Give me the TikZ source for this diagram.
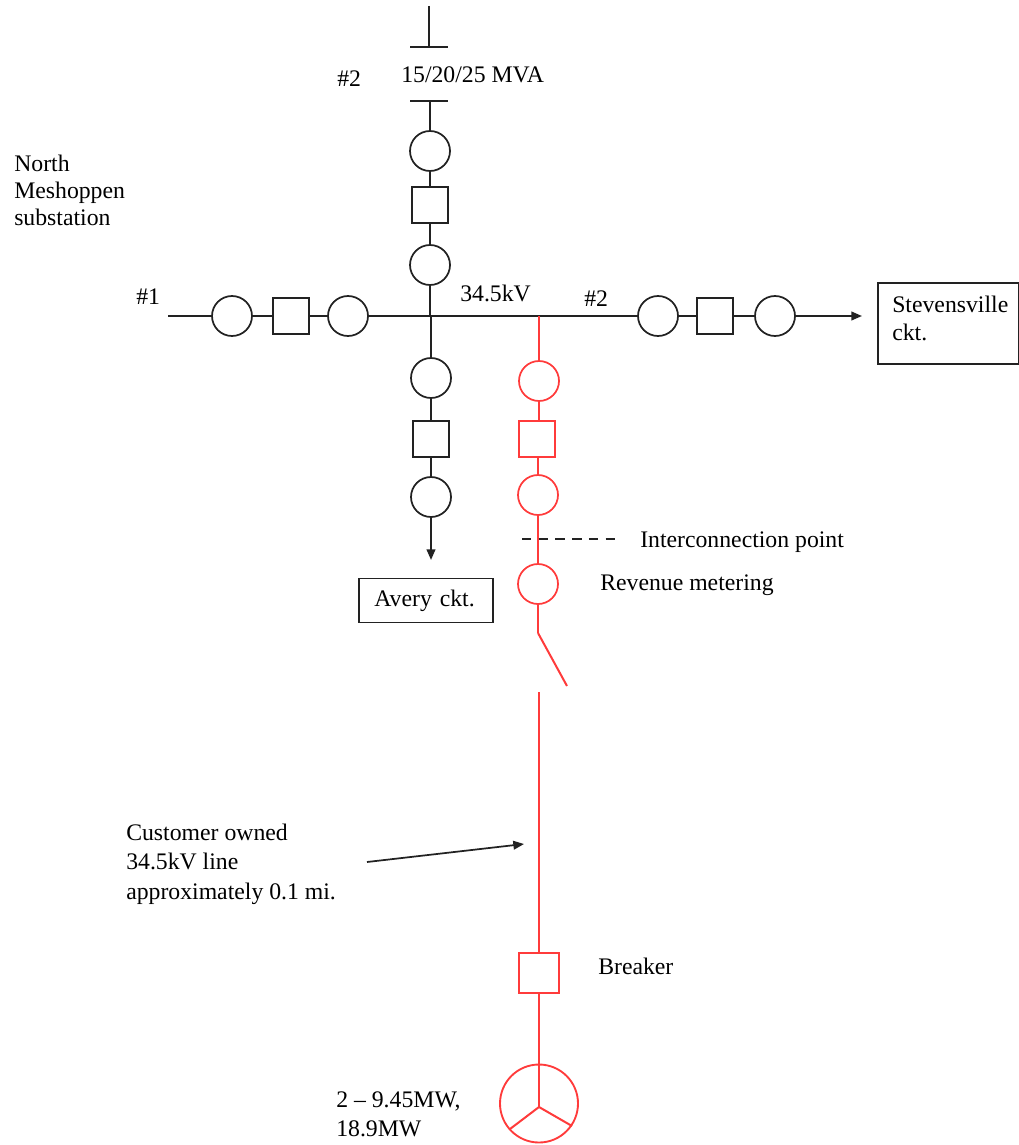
\documentclass[tikz,border=0pt]{standalone}
\usepackage{fontspec}
\setmainfont{Liberation Serif}
\usetikzlibrary{arrows.meta}
\definecolor{redline}{HTML}{FF3B3B}
\definecolor{ink}{HTML}{222222}
\tikzset{
  x=0.75pt,y=-0.75pt,
  conn/.style={line width=1.5pt,draw=ink},
  rconn/.style={line width=1.5pt,draw=redline},
  arr/.style={-{Triangle[length=8pt,width=6.5pt]}},
  brk/.style={circle,draw=ink,line width=1.3pt,minimum size=30pt,inner sep=0pt,fill=white},
  sw/.style={rectangle,draw=ink,line width=1.3pt,minimum size=27pt,inner sep=0pt,fill=white},
  rbrk/.style={brk,draw=redline},
  rsw/.style={sw,draw=redline},
  lbl/.style={anchor=west,inner sep=0pt,text=black,font=\fontsize{17.8}{21.5}\selectfont,align=left},
  boxlbl/.style={rectangle,draw=ink,line width=1.3pt,inner sep=0pt,font=\fontsize{17.8}{21.5}\selectfont,align=left}
}
\begin{document}
\begin{tikzpicture}
\useasboundingbox (0,0) rectangle (1018,1145);
\coordinate (busL) at (168,316);
\coordinate (busJ) at (430,316);
\coordinate (busK) at (431,316);
\coordinate (busR) at (539,316);
\coordinate (t1) at (429,6);
\coordinate (t1a) at (429,47);
\coordinate (b1l) at (410,47);
\coordinate (b1r) at (448,47);
\coordinate (b2l) at (410,101);
\coordinate (b2r) at (448,101);
\coordinate (b2m) at (430,101);
\node[brk] (c1) at (430,151) {};
\node[sw] (s1) at (430,205) {};
\node[brk] (c2) at (430,265) {};
\node[brk] (lc1) at (232,316) {};
\node[sw] (ls) at (291,316) {};
\node[brk] (lc2) at (348,316) {};
\node[brk] (rc1) at (658,316) {};
\node[sw] (rs) at (715,316) {};
\node[brk] (rc2) at (775,316) {};
\node[brk] (dc1) at (431,378) {};
\node[sw] (ds) at (431,439) {};
\node[brk] (dc2) at (431,497) {};
\node[rbrk] (rd1) at (539,381) {};
\node[rsw,minimum size=27.5pt] (rds) at (537,439) {};
\node[rbrk] (rd2) at (538,495) {};
\node[rbrk] (rd3) at (538,584) {};
\node[rsw,minimum size=30pt] (brkr) at (539,973) {};
\node[circle,draw=redline,line width=1.4pt,minimum size=58.5pt,inner sep=0pt] (gen) at (539,1103.5) {};
\node[boxlbl,minimum width=106pt,minimum height=61pt,anchor=north west] (stev) at (877,282) {};
\node[boxlbl,minimum width=100pt,minimum height=33pt,text width=77.5pt] (avery) at (426,600.5) {Avery ckt.};
\coordinate (arrEnd) at (862,316);
\coordinate (dEnd) at (431,560);
\coordinate (swTop) at (538,633);
\coordinate (swEnd) at (567,686);
\coordinate (lineTop) at (539,692);
\coordinate (dashL) at (522,539);
\coordinate (dashR) at (615,539);
\coordinate (noteA) at (367,862);
\coordinate (noteB) at (524,844);
\coordinate (genC) at (539,1107);
\coordinate (genL) at (510,1129);
\coordinate (genR) at (572,1126);
\draw[conn] (t1) -- (t1a);
\draw[conn] (b1l) -- (b1r);
\draw[conn] (b2l) -- (b2r);
\draw[conn] (b2m) -- (c1);
\draw[conn] (c1) -- (s1);
\draw[conn] (s1) -- (c2);
\draw[conn] (c2) -- (busJ);
\draw[conn] (busL) -- (lc1);
\draw[conn] (lc1) -- (ls);
\draw[conn] (ls) -- (lc2);
\draw[conn] (lc2) -- (rc1);
\draw[conn] (rc1) -- (rs);
\draw[conn] (rs) -- (rc2);
\draw[conn,arr] (rc2) -- (arrEnd);
\draw[conn] (busK) -- (dc1);
\draw[conn] (dc1) -- (ds);
\draw[conn] (ds) -- (dc2);
\draw[conn,arr] (dc2) -- (dEnd);
\draw[rconn] (busR) -- (rd1);
\draw[rconn] (rd1) -- (rd1 |- rds.north);
\draw[rconn] (rd2 |- rds.south) -- (rd2);
\draw[rconn] (rd2) -- (rd3);
\draw[rconn] (rd3) -- (swTop);
\draw[rconn] (swTop) -- (swEnd);
\draw[rconn] (lineTop) -- (brkr);
\draw[rconn] (brkr) -- (gen);
\draw[rconn] (gen.north) -- (genC);
\draw[rconn] (genC) -- (genL);
\draw[rconn] (genC) -- (genR);
\draw[line width=1.2pt,draw=ink,dash pattern=on 7pt off 5.55pt] (dashL) -- (dashR);
\draw[conn,line width=1.3pt,arr] (noteA) -- (noteB);
\node[lbl] (tmva) at (401,75) {15/20/25 MVA};
\node[lbl] (tn2) at (337,79) {\#2};
\node[lbl,font=\fontsize{17.8}{20.3}\selectfont] (tnm) at (14,190.5) {North\\Meshoppen\\substation};
\node[lbl] (tn1) at (136,297) {\#1};
\node[lbl] (tkv) at (460,293) {34.5kV};
\node[lbl] (tr2) at (584,299) {\#2};
\node[lbl] (tst) at (892,318.5) {Stevensville\\ckt.};
\node[lbl] (tip) at (640,542) {Interconnection point};
\node[lbl] (trm) at (600,585) {Revenue metering};
\node[lbl,font=\fontsize{17.8}{22}\selectfont] (tco) at (126,864) {Customer owned\\34.5kV line\\approximately 0.1 mi.};
\node[lbl] (tbr) at (598,966) {Breaker};
\node[lbl] (tmw) at (336,1114) {2 -- 9.45MW,\\18.9MW};
\end{tikzpicture}
\end{document}
